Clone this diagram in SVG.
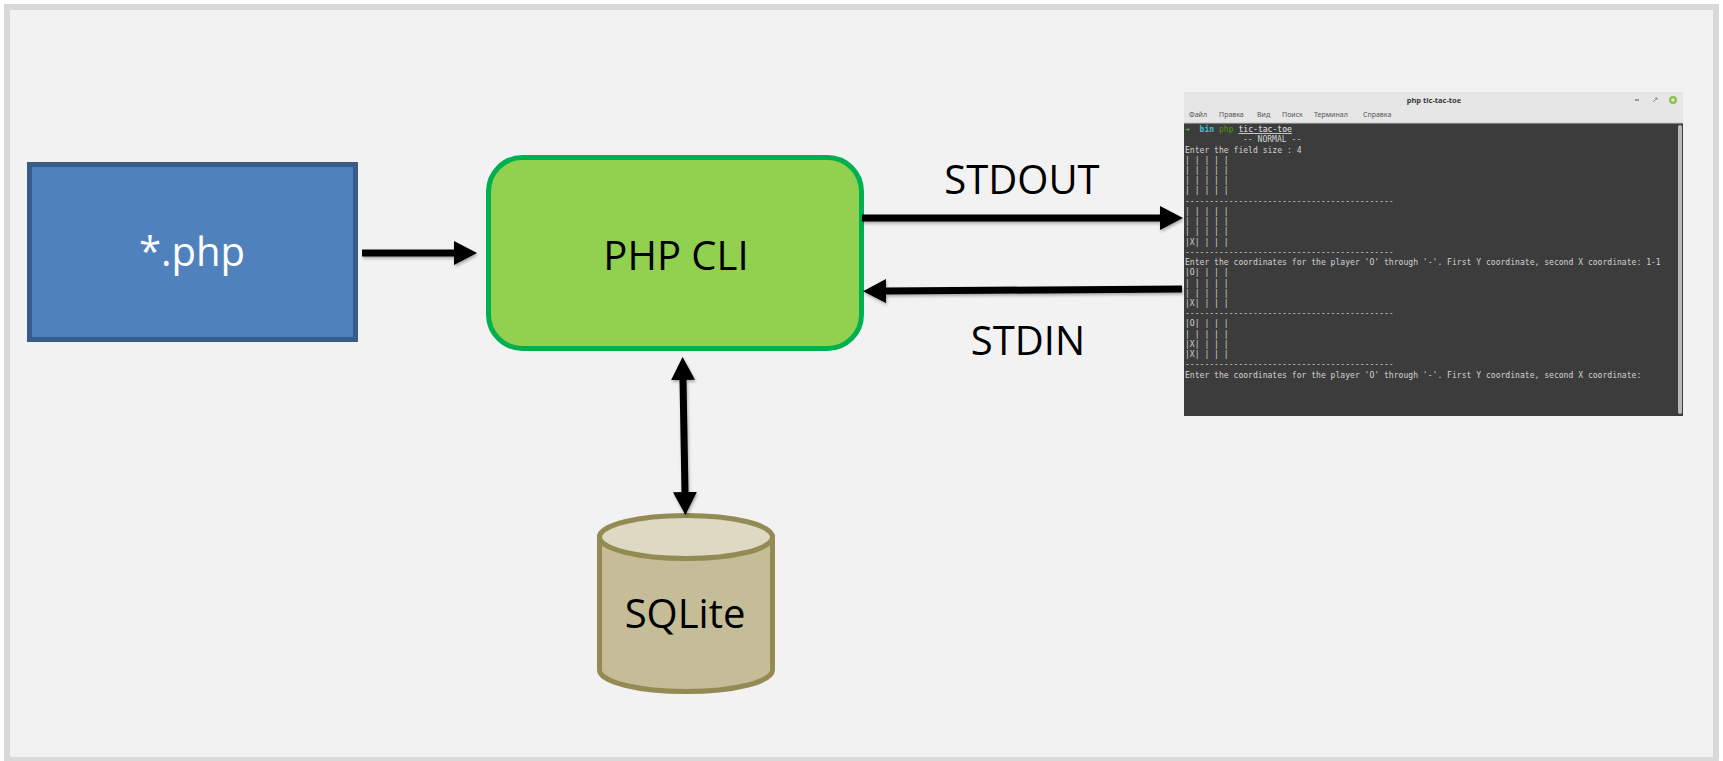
<svg xmlns="http://www.w3.org/2000/svg" width="1723" height="761" viewBox="0 0 1723 761">
<style>
.lbl{font-family:"Open Sans","Liberation Sans",sans-serif;font-size:40px;fill:#000;text-anchor:middle}
.conn{stroke:#000;stroke-width:7;fill:none}
.term{font-family:"DejaVu Sans Mono","Liberation Mono",monospace;font-size:8.07px;fill:#d4d4d4}
.menu{font-family:"Noto Sans","Liberation Sans",sans-serif;font-size:7px;fill:#555}
</style>
<defs>
<marker id="ah" viewBox="0 0 23 24" refX="0" refY="12" markerWidth="23" markerHeight="24" markerUnits="userSpaceOnUse" orient="auto-start-reverse">
<path d="M0,0 L23,12 L0,24 Z" fill="#000"/>
</marker>
<filter id="sh" x="-10%" y="-50%" width="120%" height="200%">
<feDropShadow dx="1" dy="2" stdDeviation="1.5" flood-color="#000" flood-opacity="0.3"/>
</filter>
</defs>
<rect x="0" y="0" width="1723" height="761" fill="#fff"/>
<rect x="7" y="7" width="1709" height="753" fill="#f2f2f2" stroke="#d9d9d9" stroke-width="6"/>

<g id="php-file">
<rect x="29.5" y="164.5" width="326" height="175" fill="#4f81bd" stroke="#385d8a" stroke-width="5"/>
<text class="lbl" x="192" y="266" style="fill:#fff">*.php</text>
</g>

<g id="php-cli">
<rect x="488.5" y="157.5" width="373" height="191" rx="34" ry="34" fill="#92d050" stroke="#00b050" stroke-width="5"/>
<text class="lbl" x="676" y="270">PHP CLI</text>
</g>

<g id="sqlite">
<path d="M599.5,537 L599.5,670 A86.5,21.5 0 0 0 772.5,670 L772.5,537 Z" fill="#c4bd97" stroke="#948a54" stroke-width="5"/>
<ellipse cx="686" cy="537" rx="86.5" ry="21.5" fill="#ddd9c3" stroke="#948a54" stroke-width="5"/>
<text class="lbl" x="685" y="628">SQLite</text>
</g>

<g id="terminal">
<rect x="1184" y="92" width="499" height="324" fill="#3c3c3c"/>
<rect x="1184" y="92" width="499" height="31" fill="#e6e6e6"/>
<line x1="1184" y1="123" x2="1683" y2="123" stroke="#c4c4c4" stroke-width="1"/>
<text x="1434" y="103" text-anchor="middle" style="font-family:'Noto Sans','Liberation Sans',sans-serif;font-size:7.5px;font-weight:bold;fill:#3a3a3a">php tic-tac-toe</text>
<line x1="1635" y1="100" x2="1639" y2="100" stroke="#555" stroke-width="1"/>
<path d="M1653,102 L1657,98 M1655,98 L1657,98 L1657,100" stroke="#777" stroke-width="0.8" fill="none"/>
<circle cx="1673" cy="100" r="4" fill="#8bc34a"/>
<circle cx="1673" cy="100" r="1.8" fill="#d8eec0"/>
<text class="menu" x="1189" y="117">Файл</text>
<text class="menu" x="1219" y="117">Правка</text>
<text class="menu" x="1257" y="117">Вид</text>
<text class="menu" x="1282" y="117">Поиск</text>
<text class="menu" x="1314" y="117">Терминал</text>
<text class="menu" x="1363" y="117">Справка</text>
<rect x="1678" y="125" width="4" height="289" rx="2" fill="#b8b8b8"/>
<g class="term">
<text x="1185" y="132"><tspan style="fill:#4caf50">➜</tspan><tspan x="1199.6" style="fill:#35c6d6;font-weight:bold">bin</tspan><tspan x="1219" style="fill:#4e9a06">php</tspan><tspan x="1238.5" style="text-decoration:underline;fill:#e8e8e8">tic-tac-toe</tspan></text>
<text x="1243" y="142.2">-- NORMAL --</text>
<text x="1185" y="152.5">Enter the field size : 4</text>
<text x="1185" y="162.7">| | | | |</text>
<text x="1185" y="172.9">| | | | |</text>
<text x="1185" y="183.2">| | | | |</text>
<text x="1185" y="193.4">| | | | |</text>
<text x="1185" y="203.6">-------------------------------------------</text>
<text x="1185" y="213.9">| | | | |</text>
<text x="1185" y="224.1">| | | | |</text>
<text x="1185" y="234.3">| | | | |</text>
<text x="1185" y="244.5">|X| | | |</text>
<text x="1185" y="254.8">-------------------------------------------</text>
<text x="1185" y="265">Enter the coordinates for the player 'O' through '-'. First Y coordinate, second X coordinate: 1-1</text>
<text x="1185" y="275.2">|O| | | |</text>
<text x="1185" y="285.5">| | | | |</text>
<text x="1185" y="295.7">| | | | |</text>
<text x="1185" y="305.9">|X| | | |</text>
<text x="1185" y="316.1">-------------------------------------------</text>
<text x="1185" y="326.4">|O| | | |</text>
<text x="1185" y="336.6">| | | | |</text>
<text x="1185" y="346.8">|X| | | |</text>
<text x="1185" y="357.1">|X| | | |</text>
<text x="1185" y="367.3">-------------------------------------------</text>
<text x="1185" y="377.5">Enter the coordinates for the player 'O' through '-'. First Y coordinate, second X coordinate:</text>
</g>
</g>

<g id="connectors" filter="url(#sh)">
<line class="conn" x1="362" y1="253" x2="454" y2="253" marker-end="url(#ah)"/>
<line class="conn" x1="862" y1="218" x2="1160" y2="218" marker-end="url(#ah)"/>
<line class="conn" x1="1182" y1="289" x2="886" y2="291" marker-end="url(#ah)"/>
<line class="conn" x1="683" y1="380" x2="685" y2="492" marker-start="url(#ah)" marker-end="url(#ah)"/>
</g>

<g id="labels">
<text class="lbl" x="1022" y="194">STDOUT</text>
<text class="lbl" x="1028" y="355">STDIN</text>
</g>
</svg>
